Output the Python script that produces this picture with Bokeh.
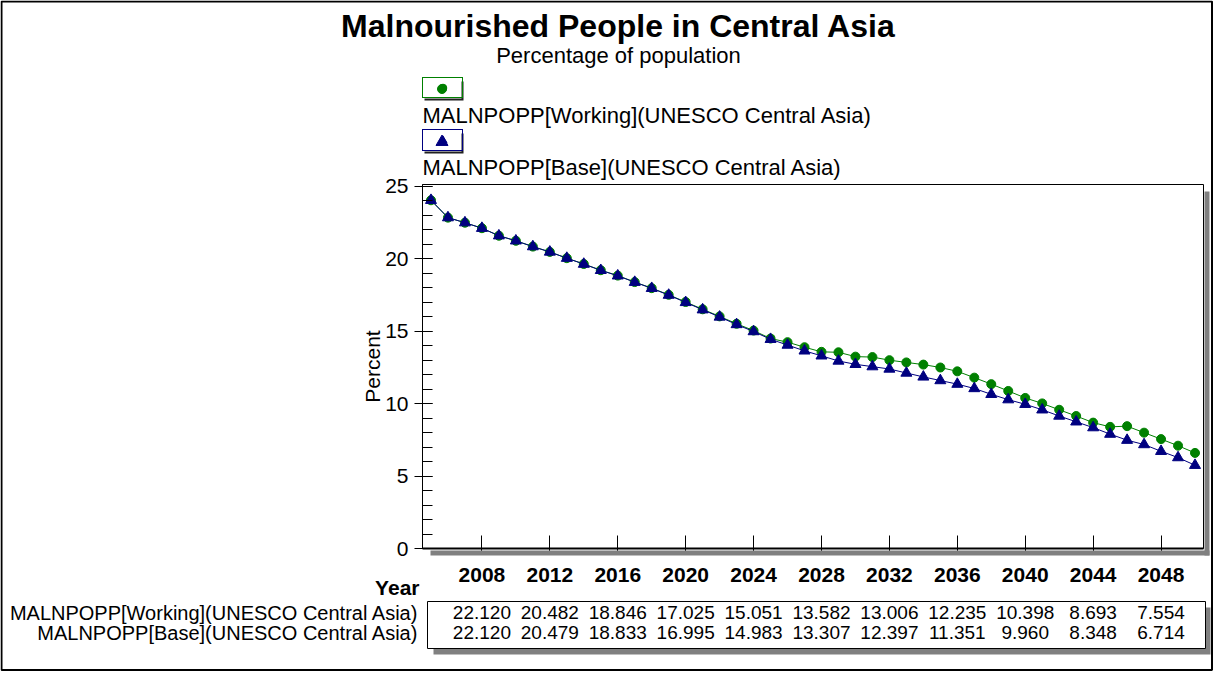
from bokeh.plotting import figure
from bokeh.models import (Label, LabelSet, BoxAnnotation, Legend, LegendItem,
                          SingleIntervalTicker, ColumnDataSource, Range1d)
from bokeh.core.properties import value
from bokeh.embed import file_html
from bokeh.resources import INLINE

# ---------------- data ----------------
years = list(range(2005, 2051))
working = [24.05, 22.85, 22.50, 22.120, 21.60, 21.25, 20.85, 20.482, 20.05, 19.65,
           19.22, 18.846, 18.40, 17.98, 17.52, 17.025, 16.52, 16.03, 15.52, 15.051,
           14.50, 14.25, 13.90, 13.582, 13.55, 13.25, 13.22, 13.006, 12.85, 12.70,
           12.50, 12.235, 11.80, 11.35, 10.88, 10.398, 10.02, 9.58, 9.15, 8.693,
           8.40, 8.45, 8.00, 7.554, 7.10, 6.60]
base = [24.05, 22.85, 22.50, 22.120, 21.60, 21.25, 20.85, 20.479, 20.05, 19.64,
        19.21, 18.833, 18.39, 17.97, 17.50, 16.995, 16.49, 15.99, 15.47, 14.983,
        14.45, 14.05, 13.65, 13.307, 12.95, 12.72, 12.56, 12.397, 12.12, 11.85,
        11.60, 11.351, 11.05, 10.65, 10.28, 9.960, 9.58, 9.15, 8.75, 8.348,
        7.90, 7.48, 7.18, 6.714, 6.28, 5.75]
table_years = [2008, 2012, 2016, 2020, 2024, 2028, 2032, 2036, 2040, 2044, 2048]
table_working = [22.120, 20.482, 18.846, 17.025, 15.051, 13.582, 13.006, 12.235, 10.398, 8.693, 7.554]
table_base = [22.120, 20.479, 18.833, 16.995, 14.983, 13.307, 12.397, 11.351, 9.960, 8.348, 6.714]

name_working = "MALNPOPP[Working](UNESCO Central Asia)"
name_base = "MALNPOPP[Base](UNESCO Central Asia)"
title_text = "Malnourished People in Central Asia"
subtitle_text = "Percentage of population"

# ---------------- layout ----------------
W, H = 1213, 671
FL, FR, FT, FB = 422, 1203, 184, 548       # plot area in canvas pixels
XA, XB = 2004.5, 2050.5                     # visible year span of plot area
YA, YB = 0.0, 25.138                        # visible value span of plot area
KX = (XB - XA) / (FR - FL)
KY = (YB - YA) / (FB - FT)
FONT = "Liberation Sans"
GREEN = "#008000"
NAVY = "#000080"


def dx(cx):
    return XA + (cx - FL) * KX


def dy(cy):
    return YA + (FB - cy) * KY


def box(l, t, r, b, **kw):
    opts = dict(fill_alpha=1, line_alpha=1)
    opts.update(kw)
    return BoxAnnotation(left=dx(l), right=dx(r), top=dy(t), bottom=dy(b), **opts)


def text(cx, cy, s, size, align="left", style="normal"):
    return Label(x=dx(cx), y=dy(cy), text=s, text_align=align, text_baseline="middle",
                 text_font=FONT, text_font_size=size, text_font_style=style,
                 text_color="black")


p = figure(width=W, height=H, output_backend="svg", toolbar_location=None,
           x_range=Range1d(dx(0), dx(W)), y_range=Range1d(dy(H), dy(0)),
           min_border_left=0, min_border_right=0, min_border_top=0, min_border_bottom=0,
           background_fill_color="white", border_fill_color="white")
p.xgrid.visible = False
p.ygrid.visible = False
p.outline_line_color = None

# axes (drawn at the plot-area edges)
p.yaxis.fixed_location = XA
p.yaxis.bounds = (YA, YB)
p.yaxis.ticker = SingleIntervalTicker(interval=5, num_minor_ticks=5)
p.yaxis.major_tick_in = 10
p.yaxis.major_tick_out = 8
p.yaxis.minor_tick_in = 10
p.yaxis.minor_tick_out = 0
p.yaxis.major_label_text_font = FONT
p.yaxis.major_label_text_font_size = "21px"
p.yaxis.major_label_text_color = "black"
p.yaxis.major_label_standoff = 6
p.yaxis.axis_label = "Percent"
p.yaxis.axis_label_text_font = FONT
p.yaxis.axis_label_text_font_size = "21px"
p.yaxis.axis_label_text_font_style = "normal"
p.yaxis.axis_label_text_color = "black"
p.yaxis.axis_label_standoff = -2
p.yaxis.axis_line_color = "black"

p.xaxis.fixed_location = YA
p.xaxis.bounds = (XA, XB)
p.xaxis.ticker = SingleIntervalTicker(interval=4, num_minor_ticks=0)
p.xaxis.major_tick_in = 13
p.xaxis.major_tick_out = 4
p.xaxis.minor_tick_in = 0
p.xaxis.minor_tick_out = 0
p.xaxis.major_label_text_font = FONT
p.xaxis.major_label_text_font_size = "21px"
p.xaxis.major_label_text_font_style = "bold"
p.xaxis.major_label_text_color = "black"
p.xaxis.major_label_standoff = 15
p.xaxis.axis_line_color = "black"
p.xaxis.axis_line_width = 2

# plot-area shadow and outline
p.add_layout(box(FR + 1, FT + 7, FR + 6, FB + 7, fill_color="#808080", line_alpha=0))
p.add_layout(box(FL + 8, FB + 2, FR + 6, FB + 7, fill_color="#808080", line_alpha=0))
p.add_layout(BoxAnnotation(left=XA, right=XB, top=YB, bottom=YA, fill_alpha=0,
                           line_color="black", line_alpha=1, line_width=1))

# legend swatch backgrounds (below the glyphs)
sw = [(79, 98, GREEN), (131, 151, NAVY)]
for (t, b, c) in sw:
    p.add_layout(box(FL + 2, t + 2, FL + 41, b + 2, fill_color="#202020", line_alpha=0,
                     level="underlay"))
    p.add_layout(box(FL, t, FL + 39, b, fill_color="white", line_alpha=0, level="underlay"))

# series
src = ColumnDataSource(dict(year=years, working=working, base=base))
p.line("year", "working", source=src, line_color=GREEN, line_width=1)
rw = p.scatter("year", "working", source=src, marker="circle", size=9,
               fill_color=GREEN, line_color=GREEN)
p.line("year", "base", source=src, line_color=NAVY, line_width=1)
rb = p.scatter("year", "base", source=src, marker="triangle", size=11,
               fill_color=NAVY, line_color=NAVY)

# larger swatch markers inside the legend boxes
p.scatter([dx(FL + 19.5)], [dy(88.5)], marker="circle", size=9, fill_color=GREEN, line_color=GREEN)
p.scatter([dx(FL + 19.5)], [dy(141.5)], marker="triangle", size=12, fill_color=NAVY, line_color=NAVY)

# legends (icon boxes)
for (t, b, c), rend in zip(sw, [rw, rb]):
    leg = Legend(items=[LegendItem(label=" ", renderers=[rend])],
                 location=(FL, H - b), glyph_width=39, glyph_height=b - t,
                 label_width=0, label_height=0, label_standoff=0, padding=0, spacing=0,
                 margin=0, label_text_font_size="1px", border_line_color=c,
                 border_line_width=1, border_line_alpha=1, background_fill_alpha=0)
    p.add_layout(leg)

# titles and legend texts
p.add_layout(text(618, 25, title_text, "32px", "center", "bold"))
p.add_layout(text(618, 55, subtitle_text, "22px", "center"))
p.add_layout(text(FL, 115, name_working, "22px"))
p.add_layout(text(FL, 167, name_base, "22px"))

# Year label
p.add_layout(text(419, 587, "Year", "21px", "right", "bold"))

# data table
TB_L, TB_T, TB_R, TB_B = 427, 601, 1205, 648
p.add_layout(box(TB_L + 6, TB_T + 6, TB_R + 5, TB_B + 6, fill_color="#808080", line_alpha=0))
p.add_layout(box(TB_L, TB_T, TB_R, TB_B, fill_color="white", line_color="black", line_width=1))
for s, cy in [(name_working, 612), (name_base, 632)]:
    p.add_layout(text(418, cy, s, "20px", "right"))
tsrc = ColumnDataSource(dict(year=table_years,
                             tw=[f"{v:.3f}" for v in table_working],
                             tb=[f"{v:.3f}" for v in table_base]))
for col, cy in [("tw", 612), ("tb", 632)]:
    p.add_layout(LabelSet(x="year", y=dy(cy), text=col, source=tsrc, text_align="center",
                          text_baseline="middle", text_font=value(FONT),
                          text_font_size=value("19px"), text_color="black"))

# outer border
p.add_layout(BoxAnnotation(left=dx(1), right=dx(W - 1.5), top=dy(1), bottom=dy(H - 1.5),
                           fill_alpha=0, line_color="black", line_alpha=1, line_width=2))

open("out.html", "w").write(file_html(p, INLINE))
